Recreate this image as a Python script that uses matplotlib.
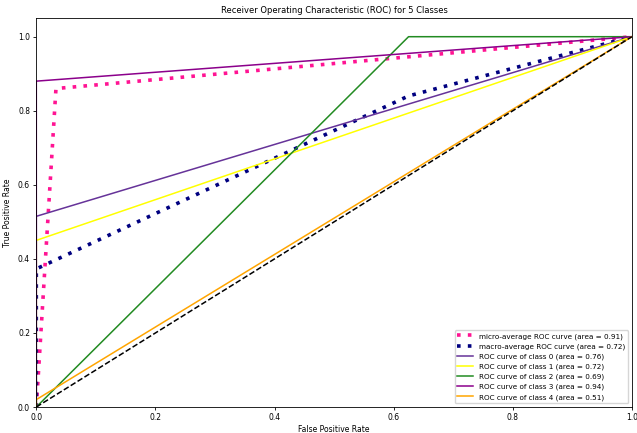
import matplotlib
matplotlib.use('Agg')
import matplotlib.pyplot as plt

# Data
micro_fpr = [0.0, 0.033, 1.0]
micro_tpr = [0.0, 0.86, 1.0]
micro_auc = 0.91

macro_fpr = [0.0, 0.0, 0.625, 1.0]
macro_tpr = [0.0, 0.373, 0.84, 1.0]
macro_auc = 0.72

class_fpr = [
    [0.0, 0.0, 1.0],
    [0.0, 0.0, 1.0],
    [0.0, 0.625, 1.0],
    [0.0, 0.0, 1.0],
    [0.0, 0.0, 1.0],
]
class_tpr = [
    [0.0, 0.515, 1.0],
    [0.0, 0.45, 1.0],
    [0.0, 1.0, 1.0],
    [0.0, 0.88, 1.0],
    [0.0, 0.02, 1.0],
]
class_auc = [0.76, 0.72, 0.69, 0.94, 0.51]
class_colors = ['rebeccapurple', 'yellow', 'forestgreen', 'darkmagenta', 'orange']

plt.rcParams.update({'font.size': 5.5})

fig = plt.figure(figsize=(6.37, 4.33), dpi=100)
ax = fig.add_axes([0.057, 0.06, 0.935, 0.898])

ax.plot(micro_fpr, micro_tpr, color='deeppink', linestyle=(0, (1, 2)), linewidth=2.6,
        label=f'micro-average ROC curve (area = {micro_auc:.2f})')
ax.plot(macro_fpr, macro_tpr, color='navy', linestyle=(0, (1, 2)), linewidth=2.6,
        label=f'macro-average ROC curve (area = {macro_auc:.2f})')

for i in range(len(class_auc)):
    ax.plot(class_fpr[i], class_tpr[i], color=class_colors[i], linewidth=1.1,
            label=f'ROC curve of class {i} (area = {class_auc[i]:.2f})')

ax.plot([0, 1], [0, 1], 'k--', linewidth=1.1)

ax.set_xlim(0.0, 1.0)
ax.set_ylim(0.0, 1.05)
ax.set_xlabel('False Positive Rate', labelpad=2)
ax.set_ylabel('True Positive Rate', labelpad=4)
ax.set_title('Receiver Operating Characteristic (ROC) for 5 Classes', fontsize=6, pad=4)
ax.tick_params(length=2.5, width=0.6, pad=2)
for s in ax.spines.values():
    s.set_linewidth(0.6)
ax.legend(loc='lower right', fontsize=5.2, handlelength=2.2)

fig.savefig('out.png', dpi=100)
